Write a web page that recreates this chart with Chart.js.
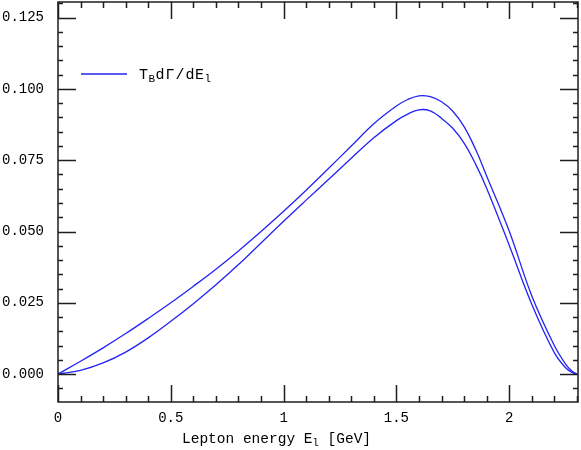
<!DOCTYPE html>
<html>
<head>
<meta charset="utf-8">
<script src="https://cdn.jsdelivr.net/npm/chart.js@4.4.0/dist/chart.umd.min.js"></script>
<style>
  html, body { margin: 0; padding: 0; background: #fff; }
  #wrap { width: 581px; height: 450px; }
</style>
</head>
<body>
<div id="wrap"><canvas id="myChart" width="581" height="450"></canvas></div>
<script>
// lepton energy grid (GeV) and the two spectra
const energies = [0, 0.1, 0.2, 0.3, 0.4, 0.5, 0.6, 0.7, 0.8, 0.9, 1.0, 1.1, 1.2, 1.3, 1.4, 1.5, 1.55, 1.6, 1.65, 1.7, 1.75, 1.8, 1.85, 1.9, 2.0, 2.1, 2.2, 2.25, 2.28, 2.3];
const upperValues = [0, 0.0045, 0.0092, 0.0142, 0.0195, 0.0250, 0.0308, 0.0368, 0.0432, 0.0500, 0.0571, 0.0645, 0.0722, 0.0800, 0.0878, 0.0940, 0.0963, 0.0976, 0.0973, 0.0955, 0.0922, 0.0868, 0.0790, 0.0695, 0.0502, 0.0275, 0.0100, 0.0035, 0.0009, 0];
const lowerValues = [0, 0.0013, 0.0039, 0.0077, 0.0127, 0.0185, 0.0247, 0.0313, 0.0384, 0.0460, 0.0536, 0.0610, 0.0683, 0.0757, 0.0829, 0.0889, 0.0912, 0.0927, 0.0923, 0.0897, 0.0862, 0.0810, 0.0738, 0.0652, 0.0452, 0.0245, 0.0075, 0.0022, 0.0005, 0];
const xTickLabels = ['0', '0.5', '1', '1.5', '2'];
const legendLabel = 'TBdΓ/dEl';

const lineColor = 'rgb(35, 35, 245)';
const frameColor = 'rgb(30, 30, 30)';
const monoFont = '"Liberation Mono", "DejaVu Sans Mono", monospace';

function toPoints(values){
    let pts = new Array;
    for ( let i = 0 ; i < energies.length ; i++) pts.push({x: energies[i], y: values[i]});
    return pts;
}

function drawParts(ctx, parts, x, y){
    parts.forEach(p => {
        ctx.font = p[1];
        ctx.fillText(p[0], x, y + p[2]);
        x += ctx.measureText(p[0]).width + (p[3] || 0);
    });
}

// frame with inward ticks on all four sides, legend and x title with subscripts
const framePlugin = {
    id: 'frame',
    afterDraw(chart){
        const ctx = chart.ctx;
        const a = chart.chartArea;
        const xs = chart.scales.x;
        const ys = chart.scales.y;
        ctx.save();
        ctx.strokeStyle = frameColor;
        ctx.lineWidth = 1.5;
        ctx.strokeRect(a.left, a.top, a.right - a.left, a.bottom - a.top);
        ctx.beginPath();
        for ( let i = 0 ; i <= 23 ; i++){
            const px = Math.round(xs.getPixelForValue(i / 10)) + 0.5;
            const len = ( i % 5 === 0 ) ? 17 : 6;
            ctx.moveTo(px, a.bottom); ctx.lineTo(px, a.bottom - len);
            ctx.moveTo(px, a.top); ctx.lineTo(px, a.top + len);
        }
        for ( let k = -1 ; k <= 26 ; k++){
            const py = Math.round(ys.getPixelForValue(k * 0.005)) + 0.5;
            const len = ( k % 5 === 0 ) ? 18 : 5;
            ctx.moveTo(a.left, py); ctx.lineTo(a.left + len, py);
            ctx.moveTo(a.right, py); ctx.lineTo(a.right - len, py);
        }
        ctx.stroke();

        // legend
        ctx.strokeStyle = chart.data.datasets[0].borderColor;
        ctx.lineWidth = 1.4;
        ctx.beginPath();
        ctx.moveTo(81, 74); ctx.lineTo(127, 74);
        ctx.stroke();
        ctx.fillStyle = '#000';
        ctx.textBaseline = 'alphabetic';
        ctx.textAlign = 'left';
        const big = '15px ' + monoFont;
        const small = '11px ' + monoFont;
        drawParts(ctx, [['T', big, 0, 0.5], ['B', small, 3, 0.5], ['d', big, 0, 1], ['Γ', big, 0, 1], ['/', big, 0, 1], ['d', big, 0, 0.5], ['E', big, 0, 0.5], ['l', small, 3, 0]], 139, 79);

        // x axis title
        const tBig = '14.5px ' + monoFont;
        const tSmall = '10.5px ' + monoFont;
        drawParts(ctx, [['Lepton energy E', tBig, 0], ['l', tSmall, 3], [' [GeV]', tBig, 0]], 182, 443);
        ctx.restore();
    }
};

new Chart('myChart', {
    type: 'line',
    data: {
        datasets: [
            {
                label: legendLabel,
                data: toPoints(upperValues),
                borderColor: lineColor,
                borderWidth: 1.3,
                pointRadius: 0,
                tension: 0.4,
                fill: false
            },
            {
                label: '',
                data: toPoints(lowerValues),
                borderColor: lineColor,
                borderWidth: 1.3,
                pointRadius: 0,
                tension: 0.4,
                fill: false
            }
        ]
    },
    options: {
        responsive: false,
        animation: false,
        layout: { padding: { top: 2, right: 3, left: 0, bottom: 0 } },
        plugins: {
            legend: { display: false },
            tooltip: { enabled: false }
        },
        scales: {
            x: {
                type: 'linear',
                min: 0,
                max: 2.305,
                grid: { display: false, drawTicks: false },
                border: { display: false },
                afterFit: function(scale){ scale.height = 48; scale.paddingLeft = 0; scale.paddingRight = 0; },
                ticks: {
                    stepSize: 0.5,
                    includeBounds: false,
                    padding: 8,
                    color: '#000',
                    font: { family: monoFont, size: 14 },
                    maxRotation: 0,
                    callback: function(v){
                        const i = Math.round(v / 0.5);
                        return ( Math.abs(v - i * 0.5) < 1e-6 && xTickLabels[i] !== undefined ) ? xTickLabels[i] : '';
                    }
                }
            },
            y: {
                type: 'linear',
                min: -0.0098,
                max: 0.1305,
                grid: { display: false, drawTicks: false },
                border: { display: false },
                afterFit: function(scale){ scale.width = 58; scale.paddingTop = 0; scale.paddingBottom = 0; },
                ticks: {
                    stepSize: 0.025,
                    includeBounds: false,
                    padding: 14,
                    color: '#000',
                    font: { family: monoFont, size: 14 },
                    callback: function(v){ return v.toFixed(3); }
                }
            }
        }
    },
    plugins: [framePlugin]
});
</script>
</body>
</html>
